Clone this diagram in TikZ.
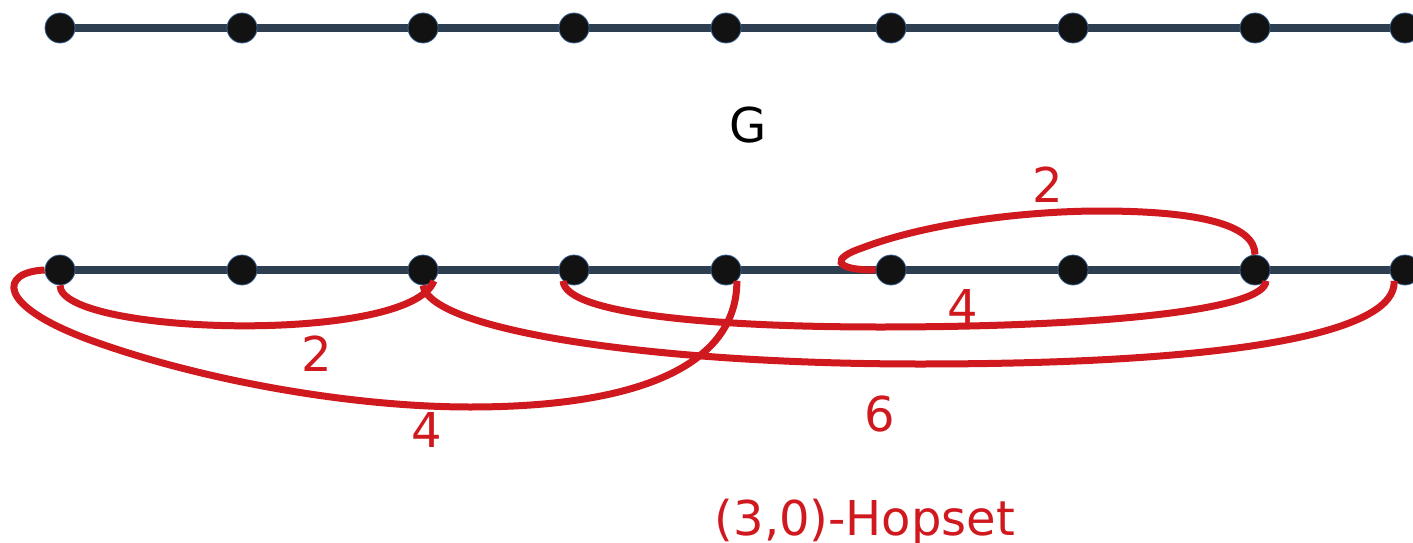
\documentclass[tikz,border=0pt]{standalone}
\usepackage{fontspec}
\setmainfont{DejaVu Sans}
\usetikzlibrary{backgrounds}

\definecolor{trackcol}{RGB}{44,62,80}
\definecolor{hopred}{RGB}{208,25,31}
\definecolor{rimcol}{RGB}{60,100,150}

\tikzset{
    vtx/.style={
        circle,
        fill=black!93,
        draw=rimcol,
        line width=0.8pt,
        inner sep=0pt,
        minimum size=30pt
    },
    track/.style={
        line width=8pt,
        trackcol
    },
    hop/.style={
        line width=7pt,
        hopred
    },
    bigtext/.style={
        font=\fontsize{48}{58}\selectfont,
        anchor=base,
        inner sep=0pt
    },
    wlabel/.style={
        bigtext,
        text=hopred
    }
}

\begin{document}
\begin{tikzpicture}[x=1pt, y=-1pt]

\useasboundingbox (0,0) rectangle (1413,543);

% ---------------- GRAF G ----------------

\node[vtx] (g1) at (60,28) {};
\node[vtx] (g2) at (242,28) {};
\node[vtx] (g3) at (423,28) {};
\node[vtx] (g4) at (574,28) {};
\node[vtx] (g5) at (726,28) {};
\node[vtx] (g6) at (891,28) {};
\node[vtx] (g7) at (1073,28) {};
\node[vtx] (g8) at (1255,28) {};
\node[vtx] (g9) at (1405,28) {};

\node[bigtext] (gname) at (748,142) {G};


% ---------------- HOPSET ----------------

\node[vtx] (h1) at (60,270) {};
\node[vtx] (h2) at (242,270) {};
\node[vtx] (h3) at (423,270) {};
\node[vtx] (h4) at (574,270) {};
\node[vtx] (h5) at (726,270) {};
\node[vtx] (h6) at (891,270) {};
\node[vtx] (h7) at (1073,270) {};
\node[vtx] (h8) at (1255,270) {};
\node[vtx] (h9) at (1405,270) {};

% camins sota els vertexs
\begin{scope}[on background layer]
    \draw[track] (g1.center) -- (g9.center);
    \draw[track] (h1.center) -- (h9.center);
\end{scope}

% dreceres
\draw[hop] (h1.south)
    .. controls (60,335) and (410,345) .. (h3.south east);

\draw[hop] (h1.west)
    .. controls (0,272) and (-5,305) .. (90,340)
    .. controls (200,380) and (350,407) .. (470,407)
    .. controls (650,407) and (737,360) .. (h5.south east);

\draw[hop] (h3.south)
    .. controls (430,330) and (650,364) .. (920,364)
    .. controls (1250,364) and (1397,330) .. (h9.south west);

\draw[hop] (h4.south west)
    .. controls (565,315) and (720,327) .. (880,327)
    .. controls (1100,327) and (1266,310) .. (h8.south east);

\draw[hop] (h6.west)
    .. controls (832,270) and (832,258) .. (862,248)
    .. controls (930,222) and (1030,211) .. (1100,211)
    .. controls (1200,211) and (1255,225) .. (h8.north);

% pesos
\node[wlabel] (w13) at (317,371) {2};
\node[wlabel] (w15) at (427,447) {4};
\node[wlabel] (w39) at (880,431) {6};
\node[wlabel] (w48) at (963,324) {4};
\node[wlabel] (w68) at (1048,202) {2};

\node[wlabel] (hname) at (865,535) {(3,0)-Hopset};

\end{tikzpicture}
\end{document}
